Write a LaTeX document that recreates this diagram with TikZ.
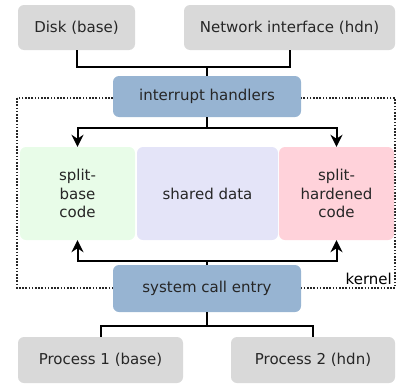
\documentclass[tikz,border=0pt]{standalone}
\usepackage{fontspec}
\setmainfont{DejaVu Sans}
\usetikzlibrary{arrows.meta}
\definecolor{boxgray}{HTML}{D9D9D9}
\definecolor{boxblue}{HTML}{97B4D2}
\definecolor{boxgreen}{HTML}{E8FCE8}
\definecolor{boxlav}{HTML}{E4E4F8}
\definecolor{boxpink}{HTML}{FFD2DA}
\begin{document}
\begin{tikzpicture}[x=1pt,y=-1pt,
  font=\fontsize{15}{18.5}\selectfont,
  box/.style={rounded corners=6pt, inner sep=0pt, align=center, text=black!85},
  conn/.style={line width=2pt},
  arr/.style={line width=2pt, -{Stealth[length=12pt,width=12pt]}},
  kbox/.style={line width=1.6pt, dash pattern=on 1.6pt off 1.6pt, black!85}]
\useasboundingbox (0,0) rectangle (396,383);
% kernel boundary
\draw[kbox] (17,98) rectangle (395,288);
\node[anchor=south east, inner sep=1pt] (klabel) at (393,286) {kernel};
% nodes
\node[box, fill=boxgray, minimum width=117pt, minimum height=45pt] (disk) at (76.5,27.5) {Disk (base)};
\node[box, fill=boxgray, minimum width=211pt, minimum height=45pt] (net) at (289.5,27.5) {Network interface (hdn)};
\node[box, fill=boxblue, minimum width=188pt, minimum height=41pt] (irq) at (207,96.5) {interrupt handlers};
\node[box, fill=boxgreen, minimum width=115pt, minimum height=93pt] (sb) at (77.5,193.5) {split-\\base\\code};
\node[box, fill=boxlav, minimum width=141pt, minimum height=93pt] (sd) at (207.5,193.5) {shared data};
\node[box, fill=boxpink, minimum width=115pt, minimum height=93pt] (sh) at (336.5,193.5) {split-\\hardened\\code};
\node[box, fill=boxblue, minimum width=188pt, minimum height=47pt] (sys) at (207,288.5) {system call entry};
\node[box, fill=boxgray, minimum width=165pt, minimum height=46pt] (p1) at (100.5,360) {Process 1 (base)};
\node[box, fill=boxgray, minimum width=164pt, minimum height=46pt] (p2) at (313,360) {Process 2 (hdn)};
% junctions
\coordinate (j1) at (207,67);
\coordinate (j2) at (207,128);
\coordinate (j3) at (207,261);
\coordinate (j4) at (207,326);
% connectors
\draw[conn] (disk.south) |- (j1);
\draw[conn] (j1) -| (net.south);
\draw[conn] (j1) -- (irq.north);
\draw[conn] (irq.south) -- (j2);
\draw[arr] (j2) -| (sb.north);
\draw[arr] (j2) -| (sh.north);
\draw[conn] (sys.north) -- (j3);
\draw[arr] (j3) -| (sb.south);
\draw[arr] (j3) -| (sh.south);
\draw[conn] (sys.south) -- (j4);
\draw[conn] (j4) -| (p1.north);
\draw[conn] (j4) -| (p2.north);
\end{tikzpicture}
\end{document}
